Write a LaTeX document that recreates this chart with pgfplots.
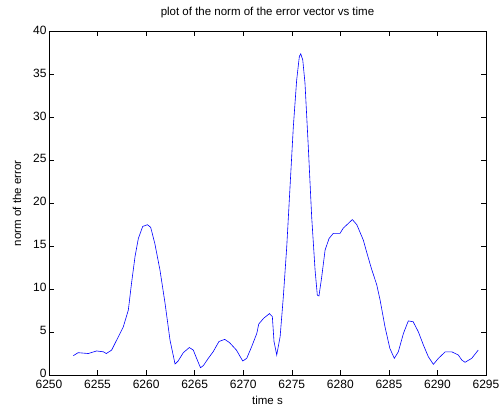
\documentclass[border=0pt]{standalone}
\usepackage{pgfplots}
\pgfplotsset{compat=1.18}
\usepackage{fontspec}
\setmainfont{Liberation Sans}
\begin{document}
\begin{tikzpicture}
\begin{axis}[
  scale only axis, width=437pt, height=343.5pt,
  xmin=6250, xmax=6295, ymin=0, ymax=40,
  xtick={6250,6255,...,6295}, ytick={0,5,...,40},
  tick align=inside, major tick length=5pt,
  tick style={black, line width=0.5pt},
  axis line style={line width=0.5pt},
  /pgf/number format/assume math mode=true,
  /pgf/number format/1000 sep={},
  tick label style={font=\fontsize{12}{13}\selectfont},
  xticklabel style={yshift=-2pt},
  yticklabel style={xshift=1pt, yshift=1.5pt},
  label style={font=\fontsize{11.5}{13}\selectfont},
  title style={font=\fontsize{11.5}{13}\selectfont, at={(axis description cs:0.5,1.038)}, anchor=center},
  title={plot of the norm of the error vector vs time},
  xlabel={time s}, ylabel={norm of the error},
  xlabel style={at={(axis description cs:0.5,-0.075)}, anchor=center},
  ylabel style={at={(axis description cs:-0.073,0.5)}, anchor=center},
]
\addplot[blue, line width=0.6pt] coordinates {
(6252.5,2.25)(6253.0,2.6)(6254.05,2.5)(6254.9,2.8)(6255.6,2.7)(6255.9,2.5)
(6256.45,2.9)(6256.97,4.07)(6257.65,5.6)(6258.17,7.57)(6258.5,10.7)(6258.86,13.8)
(6259.2,15.9)(6259.65,17.3)(6260.13,17.5)(6260.47,17.2)(6260.9,15.3)(6261.43,12.2)
(6261.95,8.35)(6262.46,4.07)(6262.98,1.28)(6263.3,1.63)(6263.83,2.6)(6264.45,3.2)
(6264.86,2.9)(6265.2,1.94)(6265.6,0.85)(6265.9,1.1)(6266.4,1.94)(6266.9,2.7)
(6267.5,3.9)(6268.1,4.15)(6268.6,3.76)(6269.3,2.9)(6269.95,1.63)(6270.36,1.94)
(6270.87,3.3)(6271.4,4.85)(6271.6,5.94)(6272.1,6.6)(6272.7,7.15)(6273.0,6.8)
(6273.17,3.9)(6273.45,2.33)(6273.8,4.46)(6274.13,9.1)(6274.48,14.9)(6274.8,21.5)
(6275.16,28.9)(6275.5,34.3)(6275.78,37.1)(6275.92,37.4)(6276.13,36.7)(6276.36,34)
(6276.7,26.6)(6277.05,18.4)(6277.4,12.2)(6277.63,9.3)(6277.8,9.2)(6278.08,11.4)
(6278.43,14.55)(6278.84,15.9)(6279.28,16.5)(6279.97,16.5)(6280.3,17.1)(6280.83,17.66)
(6281.24,18.1)(6281.7,17.5)(6282.37,15.7)(6282.7,14.35)(6283.2,12.4)(6283.75,10.5)
(6284.1,8.7)(6284.6,5.6)(6285.1,3.1)(6285.56,1.94)(6285.97,2.7)(6286.5,4.85)
(6287.0,6.3)(6287.5,6.2)(6288.03,5.04)(6288.55,3.5)(6289.06,2.13)(6289.58,1.24)
(6290.1,1.94)(6290.8,2.7)(6291.47,2.7)(6292.15,2.33)(6292.5,1.75)(6292.84,1.48)
(6293.53,1.94)(6294.2,2.9)
};
\end{axis}
\path[use as bounding box] (-49pt,-35pt) rectangle (454pt,375pt);
\end{tikzpicture}
\end{document}
